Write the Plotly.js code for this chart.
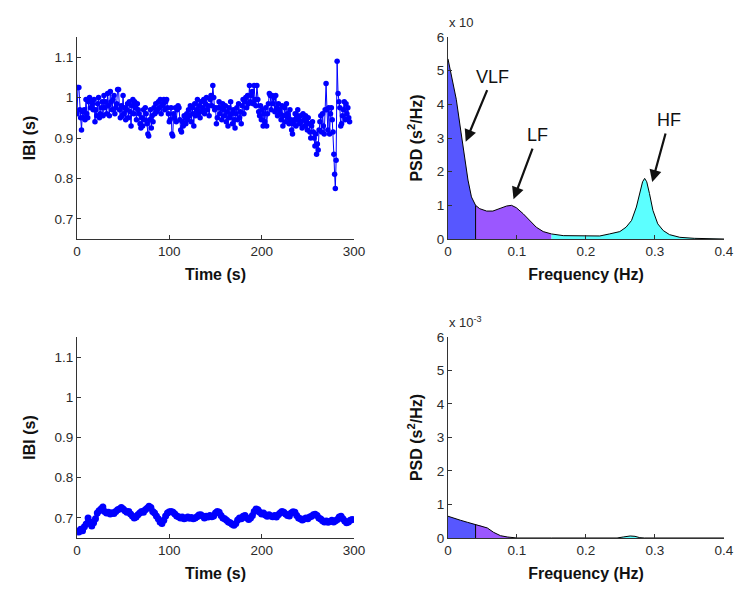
<!DOCTYPE html>
<html>
<head>
<meta charset="utf-8">
<script src="https://cdn.plot.ly/plotly-3.0.1.min.js"></script>
<style>html,body{margin:0;padding:0;background:#fff}#chart{width:748px;height:599px}</style>
</head>
<body>
<div id="chart"></div>
<script>
// ---- Top-left: inter-beat intervals (s), beat by beat ----
const ibiTop = [
0.96,1.025,1.025,0.97,0.95,0.92,0.965,0.95,0.97,0.945,
0.995,0.96,0.95,0.99,1.0,0.975,0.99,0.985,0.97,0.995,
0.94,0.97,0.955,0.985,1.0,0.95,0.96,0.975,0.99,0.955,
1.005,0.975,0.99,0.96,1.01,0.98,0.955,1.015,0.99,0.97,
0.995,1.005,0.96,0.975,0.985,1.02,1.02,0.97,0.95,0.98,
0.955,1.005,0.96,0.975,0.945,0.97,0.985,0.95,0.99,0.965,
0.93,0.98,0.995,0.96,0.99,0.975,0.945,0.985,0.97,0.96,
0.935,0.925,0.95,0.93,0.97,0.945,0.975,0.96,0.935,0.91,
0.905,0.945,0.97,0.925,0.955,0.94,0.975,0.96,0.985,0.965,
0.97,0.99,0.975,0.995,0.96,0.98,0.985,0.995,0.97,0.99,
0.995,0.975,0.96,0.94,0.945,0.975,0.91,0.905,0.96,0.95,
0.975,0.94,0.97,0.98,0.975,0.945,0.92,0.915,0.94,0.93,
0.955,0.95,0.935,0.96,0.945,0.97,0.955,0.98,0.94,0.975,
0.96,0.93,0.985,0.955,0.97,0.995,0.96,0.98,0.95,0.99,
0.965,0.975,0.995,0.96,0.985,1.0,0.97,0.98,0.955,0.995,
1.005,0.98,1.03,1.0,0.97,0.975,0.935,0.95,0.975,0.99,
0.96,0.975,0.945,0.985,0.97,0.955,0.98,0.94,0.965,0.93,
0.975,0.95,0.99,0.96,0.935,0.97,0.945,0.925,0.96,0.975,
0.945,0.985,0.95,0.965,0.935,0.98,0.995,0.96,0.99,1.0,
0.975,1.005,0.985,1.03,0.99,1.005,1.015,0.985,1.03,0.995,
0.98,1.03,0.995,0.965,0.955,0.98,0.945,0.97,0.93,0.96,
0.94,0.975,0.93,0.96,0.985,1.01,1.005,0.97,1.005,0.985,
1.0,0.965,1.005,0.975,0.955,0.985,0.97,0.96,0.945,0.98,
0.93,0.955,0.975,0.94,0.985,0.96,0.95,0.935,0.97,0.945,
0.92,0.91,0.935,0.945,0.96,0.93,0.955,0.97,0.945,0.935,
0.955,0.94,0.925,0.96,0.945,0.93,0.955,0.94,0.92,0.95,
0.935,0.915,0.9,0.93,0.94,0.915,0.9,0.88,0.91,0.86,
0.885,0.87,0.92,0.94,0.955,0.915,0.96,0.93,0.91,0.97,
1.035,0.97,0.92,0.975,0.91,0.96,0.975,0.945,0.915,0.86,
0.81,0.775,0.845,1.09,1.01,0.99,0.975,0.93,0.935,0.955,
0.97,0.99,0.945,0.985,0.96,0.975,0.95,0.94
];
// beat times = running sum of the intervals, first beat at 0 s
const timeTop = [];
ibiTop.forEach((v, i) => timeTop.push(i === 0 ? 0 : timeTop[i - 1] + v));

// ---- Bottom-left: IBI read every 2 s ----
const timeBottom = [0,2,4,6,8,10,12,14,16,18,20,22,24,26,28,30,32,34,36,38,40,42,44,46,48,50,52,54,56,58,
60,62,64,66,68,70,72,74,76,78,80,82,84,86,88,90,92,94,96,98,100,102,104,106,108,110,112,114,116,118,
120,122,124,126,128,130,132,134,136,138,140,142,144,146,148,150,152,154,156,158,160,162,164,166,168,170,172,174,176,178,
180,182,184,186,188,190,192,194,196,198,200,202,204,206,208,210,212,214,216,218,220,222,224,226,228,230,232,234,236,238,
240,242,244,246,248,250,252,254,256,258,260,262,264,266,268,270,272,274,276,278,280,282,284,286,288,290,292,294,296,298];
const ibiBottom = [
0.667,0.665,0.672,0.668,0.678,0.685,0.700,0.690,0.680,0.688,0.698,0.712,0.718,0.722,0.727,0.716,0.712,0.714,0.710,0.713,
0.711,0.716,0.720,0.722,0.726,0.722,0.718,0.714,0.716,0.710,0.705,0.700,0.702,0.708,0.712,0.716,0.714,0.720,0.724,0.729,
0.726,0.716,0.712,0.705,0.698,0.690,0.686,0.694,0.705,0.712,0.715,0.716,0.714,0.710,0.705,0.703,0.700,0.702,0.698,0.700,
0.702,0.699,0.701,0.698,0.700,0.703,0.707,0.708,0.705,0.700,0.704,0.702,0.706,0.703,0.705,0.712,0.716,0.714,0.706,0.700,
0.698,0.694,0.690,0.688,0.684,0.682,0.686,0.695,0.700,0.698,0.704,0.706,0.700,0.696,0.700,0.706,0.716,0.722,0.720,0.714,
0.710,0.712,0.707,0.704,0.708,0.705,0.703,0.706,0.702,0.708,0.712,0.716,0.714,0.710,0.706,0.705,0.712,0.715,0.714,0.706,
0.700,0.698,0.695,0.697,0.700,0.698,0.702,0.704,0.708,0.709,0.706,0.700,0.697,0.693,0.690,0.692,0.689,0.691,0.694,0.690,
0.693,0.696,0.702,0.704,0.698,0.692,0.688,0.690,0.694,0.696];

// ---- PSD (values in units of 1e-3 s^2/Hz) ----
const freqTop = [0,0.004,0.008,0.012,0.019,0.024,0.029,0.034,0.04,0.046,0.056,0.065,0.075,0.085,0.092,0.099,0.109,0.118,0.128,0.138,0.15,
0.167,0.186,0.205,0.22,0.234,0.249,0.258,0.266,0.273,0.278,0.282,0.285,0.288,0.292,0.297,0.304,0.312,0.321,0.336,0.357,0.38,0.4];
const psdTop = [5.35,4.95,4.55,4.15,3.15,2.45,1.75,1.25,1.0,0.9,0.83,0.83,0.9,0.98,1.0,0.93,0.75,0.55,0.35,0.22,0.15,
0.1,0.09,0.08,0.09,0.15,0.22,0.35,0.55,0.95,1.4,1.7,1.8,1.7,1.35,0.85,0.45,0.25,0.13,0.05,0.02,0.005,0];
const freqBottom = [0,0.009,0.018,0.028,0.04,0.047,0.057,0.066,0.076,0.086,0.093,0.1,0.15,0.2,0.245,0.254,0.264,0.271,0.278,0.285,0.32,0.4];
const psdBottom = [0.65,0.6,0.53,0.47,0.4,0.37,0.3,0.17,0.07,0.03,0.01,0,0,0,0,0.03,0.06,0.05,0.01,0,0,0];

const bands = [
  {name: 'VLF', lo: 0, hi: 0.04, color: '#5757ff'},
  {name: 'LF', lo: 0.04, hi: 0.15, color: '#9b57ff'},
  {name: 'HF', lo: 0.15, hi: 0.4, color: '#5cffff'}
];
const bandLabels = ['VLF', 'LF', 'HF'];
const arrowHead = {x: [0.0257, 0.095, 0.296], y: [2.89, 1.18, 1.69]};
const labelOffset = {ax: [27, 24, 17], ay: [-65, -64, -62]};

const traces = [];
traces.push({x: timeTop, y: ibiTop, xaxis: 'x', yaxis: 'y', type: 'scatter', mode: 'lines+markers',
  line: {color: '#0000ff', width: 1}, marker: {color: '#0000ff', size: 5.5}, hoverinfo: 'skip'});
traces.push({x: timeBottom, y: ibiBottom, xaxis: 'x3', yaxis: 'y3', type: 'scatter', mode: 'lines+markers',
  line: {color: '#0000ff', width: 4}, marker: {color: '#0000ff', size: 7}, hoverinfo: 'skip'});

function psdTraces(freq, psd, xa, ya) {
  bands.forEach(b => {
    const fx = [], fy = [];
    freq.forEach((f, i) => { if (f >= b.lo - 1e-9 && f <= b.hi + 1e-9) { fx.push(f); fy.push(psd[i]); } });
    traces.push({x: fx, y: fy, xaxis: xa, yaxis: ya, type: 'scatter', mode: 'lines', fill: 'tozeroy',
      fillcolor: b.color, line: {width: 0, color: b.color}, hoverinfo: 'skip'});
  });
  traces.push({x: freq, y: psd, xaxis: xa, yaxis: ya, type: 'scatter', mode: 'lines',
    line: {color: '#000', width: 1}, hoverinfo: 'skip'});
  const k = freq.indexOf(0.04);
  traces.push({x: [0.04, 0.04], y: [0, psd[k]], xaxis: xa, yaxis: ya, type: 'scatter', mode: 'lines',
    line: {color: '#000', width: 1}, hoverinfo: 'skip'});
}
psdTraces(freqTop, psdTop, 'x2', 'y2');
psdTraces(freqBottom, psdBottom, 'x4', 'y4');

const tickFont = {family: 'Liberation Sans, Arial, sans-serif', size: 13.5, color: '#2a2a2a'};
const titleFont = {family: 'Liberation Sans, Arial, sans-serif', size: 16, color: '#111', weight: 'bold'};
function ax(extra) {
  return Object.assign({showline: true, linecolor: '#333', linewidth: 1, mirror: false, showgrid: false,
    zeroline: false, ticks: 'inside', ticklen: 4, tickcolor: '#333', tickfont: tickFont, fixedrange: true}, extra);
}
const domL = [0, 0.4281], domR = [0.5734, 1], domT = [0.5968, 1], domB = [0, 0.4012];
const ibiTicks = [0.7, 0.8, 0.9, 1, 1.1];
const ibiTickText = ['0.7', '0.8', '0.9', '1', '1.1'];
const layout = {
  width: 748, height: 599, showlegend: false,
  paper_bgcolor: '#fff', plot_bgcolor: '#fff',
  margin: {l: 77, r: 24, t: 37, b: 61},
  xaxis: ax({domain: domL, anchor: 'y', range: [0, 300], tickvals: [0, 100, 200, 300],
    title: {text: 'Time (s)', font: titleFont, standoff: 10}}),
  yaxis: ax({domain: domT, anchor: 'x', range: [0.65, 1.15], tickvals: ibiTicks, ticktext: ibiTickText,
    title: {text: 'IBI (s)', font: titleFont, standoff: 14}}),
  xaxis2: ax({domain: domR, anchor: 'y2', range: [0, 0.4], tickvals: [0, 0.1, 0.2, 0.3, 0.4],
    title: {text: 'Frequency (Hz)', font: titleFont, standoff: 10}}),
  yaxis2: ax({domain: domT, anchor: 'x2', range: [0, 6], tickvals: [0, 1, 2, 3, 4, 5, 6],
    title: {text: 'PSD (s<sup>2</sup>/Hz)', font: titleFont, standoff: 10}}),
  xaxis3: ax({domain: domL, anchor: 'y3', range: [0, 300], tickvals: [0, 100, 200, 300],
    title: {text: 'Time (s)', font: titleFont, standoff: 10}}),
  yaxis3: ax({domain: domB, anchor: 'x3', range: [0.65, 1.15], tickvals: ibiTicks, ticktext: ibiTickText,
    title: {text: 'IBI (s)', font: titleFont, standoff: 14}}),
  xaxis4: ax({domain: domR, anchor: 'y4', range: [0, 0.4], tickvals: [0, 0.1, 0.2, 0.3, 0.4],
    title: {text: 'Frequency (Hz)', font: titleFont, standoff: 10}}),
  yaxis4: ax({domain: domB, anchor: 'x4', range: [0, 6], tickvals: [0, 1, 2, 3, 4, 5, 6],
    title: {text: 'PSD (s<sup>2</sup>/Hz)', font: titleFont, standoff: 10}}),
  annotations: []
};
const labelFont = {family: 'Liberation Sans, Arial, sans-serif', size: 18, color: '#111'};
bandLabels.forEach((t, i) => {
  layout.annotations.push({xref: 'x2', yref: 'y2', x: arrowHead.x[i], y: arrowHead.y[i], text: t,
    font: labelFont, showarrow: true, arrowhead: 2, arrowsize: 1.1, arrowwidth: 2.2, arrowcolor: '#111',
    standoff: 0, startstandoff: 2, ax: labelOffset.ax[i], ay: labelOffset.ay[i]});
});
layout.annotations.push({xref: 'paper', yref: 'paper', x: (447 - 77) / 647, y: 1 + (37 - 23) / 501, xanchor: 'left', yanchor: 'middle',
  text: 'x 10', showarrow: false, font: {family: 'Liberation Sans, Arial, sans-serif', size: 13, color: '#2a2a2a'}});
layout.annotations.push({xref: 'paper', yref: 'paper', x: (447 - 77) / 647, y: (538 - 322) / 501, xanchor: 'left', yanchor: 'middle',
  text: 'x 10<sup>-3</sup>', showarrow: false, font: {family: 'Liberation Sans, Arial, sans-serif', size: 13, color: '#2a2a2a'}});

Plotly.newPlot('chart', traces, layout, {displayModeBar: false, staticPlot: true});
</script>
</body>
</html>
